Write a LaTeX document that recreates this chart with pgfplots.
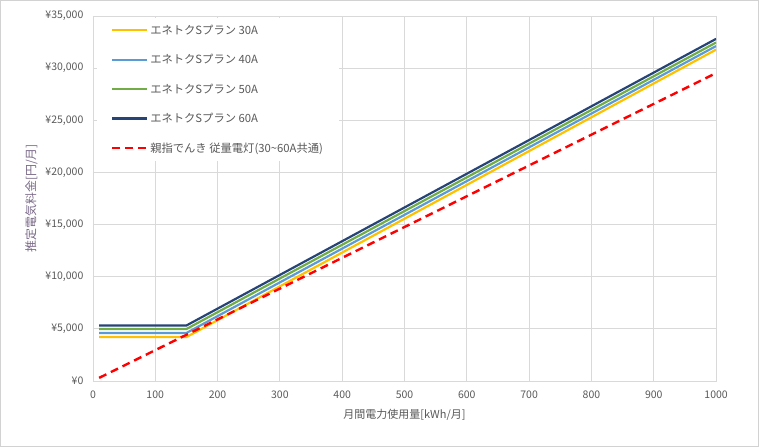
\documentclass[border=0pt]{standalone}
\usepackage{pgfplots}
\pgfplotsset{compat=1.18}
\usepackage{fontspec}
\setmainfont{Noto Sans CJK JP}
\definecolor{txt}{HTML}{595959}
\definecolor{ylab}{HTML}{7A6A88}
\definecolor{gridc}{HTML}{D9D9D9}
\definecolor{c30}{HTML}{FFC000}
\definecolor{c40}{HTML}{5B9BD5}
\definecolor{c50}{HTML}{70AD47}
\definecolor{c60}{HTML}{264478}
\begin{document}
\begin{tikzpicture}
% chart area frame
\draw[gray!35, line width=0.8pt] (0.5pt,0.5pt) rectangle (758.5pt,446.5pt);
\begin{axis}[
    at={(93pt,66pt)}, anchor=south west,
    scale only axis,
    width=623pt, height=365pt,
    xmin=0, xmax=1000,
    ymin=0, ymax=35000,
    xtick={0,100,...,1000},
    ytick={0,5000,...,35000},
    yticklabels={{¥0},{¥5,000},{¥10,000},{¥15,000},{¥20,000},{¥25,000},{¥30,000},{¥35,000}},
    xticklabel style={/pgf/number format/.cd, 1000 sep={}, assume math mode=true},
    scaled y ticks=false,
    major tick length=0pt,
    grid=major,
    grid style={gridc, line width=0.8pt},
    axis line style={gridc, line width=0.8pt},
    tick label style={font=\fontsize{10.5}{12}\selectfont, text=txt},
    xticklabel shift=6pt,
    yticklabel shift=6pt,
    xlabel={月間電力使用量[kWh/月]},
    ylabel={推定電気料金[円/月]},
    label style={font=\fontsize{11}{13}\selectfont},
    xlabel style={text=txt, yshift=-4pt},
    ylabel style={text=ylab, font=\fontsize{12}{14}\selectfont, yshift=1pt},
    legend cell align=left,
    legend style={draw=none, fill=white, at={(0.006,0.995)}, anchor=north west,
        font=\fontsize{11.3}{13}\selectfont, text=txt,
        inner xsep=14pt, inner ysep=5pt, row sep=14.5pt},
    legend image code/.code={\draw[#1] (3pt,0pt) -- (38pt,0pt);},
]
\addplot[c30, line width=2.2pt] coordinates {(10,4210) (150,4210) (1000,31770)};
\addlegendentry{エネトクSプラン 30A}
\addplot[c40, line width=2.2pt] coordinates {(10,4600) (150,4600) (1000,32110)};
\addlegendentry{エネトクSプラン 40A}
\addplot[c50, line width=2.2pt] coordinates {(10,4980) (150,4980) (1000,32450)};
\addlegendentry{エネトクSプラン 50A}
\addplot[c60, line width=2.2pt] coordinates {(10,5320) (150,5320) (1000,32800)};
\addlegendentry{エネトクSプラン 60A}
\addplot[red, line width=2.4pt, dash pattern=on 8pt off 5pt] coordinates {(10,300) (150,4430) (1000,29520)};
\addlegendentry{親指でんき 従量電灯(30\textasciitilde 60A共通)}
\end{axis}
\end{tikzpicture}
\end{document}
